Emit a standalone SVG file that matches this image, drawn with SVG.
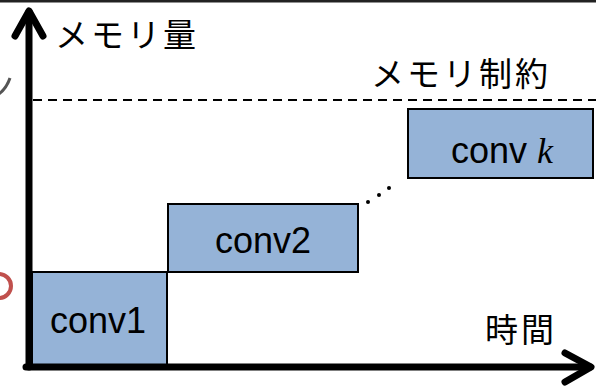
<svg xmlns="http://www.w3.org/2000/svg" width="596" height="387" viewBox="0 0 596 387">
<style>
.box{fill:#95b3d7;stroke:#000;stroke-width:2}
.lbl{font-family:"Liberation Sans",Arial,sans-serif;font-size:36px;fill:#000;text-anchor:middle}
.jp{font-family:"Noto Sans CJK JP","Noto Sans CJK SC",sans-serif;font-size:33px;letter-spacing:3px;fill:#000}
.axis{fill:none;stroke:#000;stroke-width:7;stroke-linecap:round;stroke-linejoin:round}
</style>
<rect x="0" y="0" width="596" height="387" fill="#fff"/>
<rect x="0" y="0" width="596" height="2.5" fill="#222"/>
<path d="M -4 96 Q 6 90 10 78" fill="none" stroke="#555" stroke-width="3"/>
<circle cx="-1" cy="286" r="12" fill="none" stroke="#c0504d" stroke-width="4"/>
<g id="limit">
<line x1="33" y1="100" x2="596" y2="100" stroke="#000" stroke-width="2" stroke-dasharray="9 6"/>
<text class="jp" x="371" y="86">メモリ制約</text>
</g>
<g id="conv1">
<rect class="box" x="32" y="272" width="135" height="93"/>
<text class="lbl" x="98" y="333">conv1</text>
</g>
<g id="conv2">
<rect class="box" x="168" y="204" width="190" height="68"/>
<text class="lbl" x="263" y="253">conv2</text>
</g>
<g id="convk">
<rect class="box" x="408" y="109" width="185" height="69"/>
<text class="lbl" x="502" y="163">conv <tspan font-family="'Liberation Serif','Times New Roman',serif" font-style="italic">k</tspan></text>
</g>
<g id="connectors">
<circle cx="368" cy="202" r="2"/>
<circle cx="379" cy="195" r="2"/>
<circle cx="389" cy="188" r="2"/>
</g>
<g id="yaxis">
<line class="axis" x1="29" y1="12" x2="29" y2="367"/>
<polyline class="axis" points="15,36 29,11 43,36"/>
<text class="jp" x="55" y="47">メモリ量</text>
</g>
<g id="xaxis">
<line class="axis" x1="26" y1="367" x2="590" y2="367"/>
<polyline class="axis" points="565,353 591,367 565,382"/>
<text class="jp" x="485" y="342">時間</text>
</g>
</svg>
